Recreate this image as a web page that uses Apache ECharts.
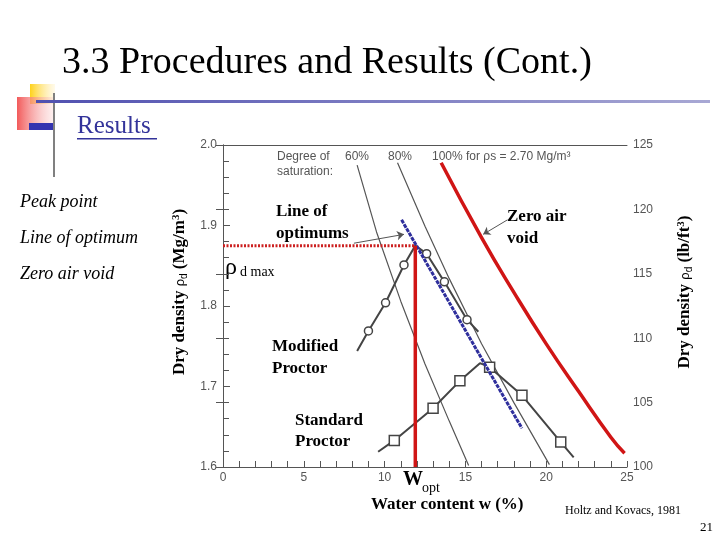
<!DOCTYPE html>
<html><head><meta charset="utf-8">
<script src="https://cdn.jsdelivr.net/npm/echarts@6/dist/echarts.min.js"></script>
<style>html,body{margin:0;padding:0;background:#fff}#c{width:720px;height:540px}</style>
</head><body><div id="c"></div>
<script>
// ---- data (w in %, rho_d in Mg/m3) ----
const xTicks = [0, 5, 10, 15, 20, 25];
const yTicksLeft = [1.6, 1.7, 1.8, 1.9, 2.0];
const yTicksRight = [100, 105, 110, 115, 120, 125];
const sat60 = [[8.3, 1.975], [9.5, 1.892], [11.0, 1.806], [12.5, 1.728], [14.0, 1.657], [15.2, 1.602]];
const sat80 = [[10.8, 1.978], [12.5, 1.899], [14.0, 1.834], [16.0, 1.753], [18.0, 1.680], [20.2, 1.603]];
const zeroAirVoid = [[13.5, 1.978], [16, 1.885], [18, 1.817], [20, 1.753], [22, 1.694], [24, 1.637], [24.85, 1.617]];
const modifiedW = [8.3, 9.0, 10.06, 11.2, 11.9, 12.6, 13.7, 15.1, 15.8];
const modifiedRho = [1.744, 1.769, 1.804, 1.851, 1.875, 1.865, 1.830, 1.783, 1.768];
const modifiedMarked = [false, true, true, true, false, true, true, true, false];
const standardW = [9.6, 10.6, 13.0, 14.66, 15.9, 16.5, 18.5, 20.9, 21.7];
const standardRho = [1.619, 1.633, 1.673, 1.707, 1.729, 1.724, 1.689, 1.631, 1.612];
const standardMarked = [false, true, true, true, false, true, true, true, false];
const lineOfOptimums = [[11.05, 1.907], [18.5, 1.648]];
const wOpt = 11.9;
const rhoMax = 1.875;
const arrowOptimums = [[8.1, 1.878], [11.2, 1.889]];
const arrowZeroAir = [[17.6, 1.907], [16.1, 1.889]];

const serif = '"Liberation Serif","Times New Roman",serif';
const sans = '"Liberation Sans",Arial,sans-serif';

function pts(ws, rs, marked) {
  return ws.map((w, i) => ({ value: [w, rs[i]], symbol: marked[i] ? undefined : 'none' }));
}
const nameRich = {
  a: { fontFamily: serif, fontSize: 17, fontWeight: 'bold', fill: '#000' },
  b: { fontFamily: sans, fontSize: 13, fill: '#000' },
  c: { fontFamily: sans, fontSize: 10, fill: '#000', verticalAlign: 'bottom', padding: [5, 0, 0, 0] },
  e: { fontFamily: serif, fontSize: 11, fontWeight: 'bold', fill: '#000', verticalAlign: 'top', padding: [0, 0, 7, 0] }
};

const chart = echarts.init(document.getElementById('c'));
const axisCol = '#555';
const option = {
  animation: false,
  backgroundColor: '#fff',
  grid: { left: 223, right: 93, top: 145, bottom: 73, show: false },
  xAxis: [{
    type: 'value', min: xTicks[0], max: xTicks[xTicks.length - 1], interval: 5,
    axisLine: { lineStyle: { color: axisCol, width: 1 } },
    axisTick: { inside: true, length: 6, lineStyle: { color: axisCol } },
    minorTick: { show: true, splitNumber: 5, length: 6, lineStyle: { color: axisCol } },
    axisLabel: { color: axisCol, fontFamily: sans, fontSize: 12, margin: 5 },
    splitLine: { show: false }
  }, {
    type: 'value', position: 'top', min: 0, max: 25,
    axisLine: { show: true, lineStyle: { color: axisCol } },
    axisTick: { show: false }, axisLabel: { show: false }, splitLine: { show: false }
  }],
  yAxis: [{
    type: 'value', min: yTicksLeft[0], max: yTicksLeft[yTicksLeft.length - 1], interval: 0.1,
    axisLine: { show: true, lineStyle: { color: axisCol } },
    axisTick: { inside: true, length: 7, lineStyle: { color: axisCol } },
    minorTick: { show: true, splitNumber: 5, length: 6, lineStyle: { color: axisCol } },
    axisLabel: { color: axisCol, fontFamily: sans, fontSize: 12, margin: 6, formatter: v => v.toFixed(1) },
    splitLine: { show: false }
  }, {
    type: 'value', position: 'right', min: yTicksRight[0], max: yTicksRight[yTicksRight.length - 1], interval: 5,
    axisLine: { show: true, lineStyle: { color: axisCol } },
    axisTick: { inside: true, length: 7, lineStyle: { color: axisCol } },
    axisLabel: { color: axisCol, fontFamily: sans, fontSize: 12, margin: 6 },
    splitLine: { show: false }
  }],
  series: [
    { type: 'line', data: sat60, showSymbol: false, lineStyle: { color: '#555', width: 1.2 }, silent: true, z: 2 },
    { type: 'line', data: sat80, showSymbol: false, lineStyle: { color: '#555', width: 1.2 }, silent: true, z: 2 },
    { type: 'line', data: pts(modifiedW, modifiedRho, modifiedMarked), symbol: 'circle', symbolSize: 8,
      itemStyle: { color: '#fff', borderColor: '#444', borderWidth: 1.5 }, lineStyle: { color: '#444', width: 2 }, z: 3 },
    { type: 'line', data: pts(standardW, standardRho, standardMarked), symbol: 'rect', symbolSize: 10,
      itemStyle: { color: '#fff', borderColor: '#444', borderWidth: 1.5 }, lineStyle: { color: '#444', width: 2 }, z: 3 },
    { type: 'line', data: zeroAirVoid, showSymbol: false, smooth: true, lineStyle: { color: '#d01515', width: 3.5 }, z: 4,
      markLine: { silent: true, symbol: ['none', 'arrow'], symbolSize: 7, label: { show: false },
        lineStyle: { color: '#555', width: 1, type: 'solid' },
        data: [[{ coord: arrowZeroAir[0] }, { coord: arrowZeroAir[1] }], [{ coord: arrowOptimums[0] }, { coord: arrowOptimums[1] }]] } },
    { type: 'line', data: lineOfOptimums, showSymbol: false, lineStyle: { color: '#2e2e9c', width: 3, type: [4, 1] }, z: 5 },
    { type: 'line', data: [[0, rhoMax], [wOpt, rhoMax]], showSymbol: false, lineStyle: { color: '#cc2020', width: 3, type: [2, 1.5] }, z: 5 },
    { type: 'line', data: [[wOpt, rhoMax], [wOpt, yTicksLeft[0]]], showSymbol: false, lineStyle: { color: '#d01515', width: 3.5 }, z: 5 }
  ],
  graphic: [
    // slide decoration
    { type: 'rect', shape: { x: 30, y: 84, width: 25, height: 20 }, style: { fill: new echarts.graphic.LinearGradient(0, 0, 1, 0, [{ offset: 0, color: '#ffd21a' }, { offset: 1, color: 'rgba(255,230,150,0.2)' }]) } },
    { type: 'rect', shape: { x: 17, y: 97, width: 36, height: 33 }, style: { fill: new echarts.graphic.LinearGradient(0, 0, 1, 0, [{ offset: 0, color: '#f25a5a' }, { offset: 1, color: 'rgba(250,200,200,0.3)' }]) } },
    { type: 'rect', shape: { x: 29, y: 123, width: 24, height: 7 }, style: { fill: '#3434b0' } },
    { type: 'rect', shape: { x: 53, y: 93, width: 2, height: 84 }, style: { fill: '#808080' } },
    { type: 'rect', shape: { x: 36, y: 100, width: 674, height: 3 }, style: { fill: new echarts.graphic.LinearGradient(0, 0, 1, 0, [{ offset: 0, color: '#5050b0' }, { offset: 1, color: '#a8a8d4' }]) } },
    { type: 'text', x: 62, y: 63, style: { text: '3.3 Procedures and Results (Cont.)', font: '38px ' + serif, fill: '#000', textVerticalAlign: 'middle' } },
    { type: 'text', x: 77, y: 126, style: { text: 'Results', font: '25px ' + serif, fill: '#33339a', textVerticalAlign: 'middle' } },
    { type: 'rect', shape: { x: 77, y: 138, width: 80, height: 1.5 }, style: { fill: '#33339a' } },
    { type: 'text', x: 20, y: 202, style: { text: 'Peak point', font: 'italic 18px ' + serif, fill: '#000', textVerticalAlign: 'middle' } },
    { type: 'text', x: 20, y: 238, style: { text: 'Line of optimum', font: 'italic 18px ' + serif, fill: '#000', textVerticalAlign: 'middle' } },
    { type: 'text', x: 20, y: 274, style: { text: 'Zero air void', font: 'italic 18px ' + serif, fill: '#000', textVerticalAlign: 'middle' } },
    // axis titles
    { type: 'text', x: 180, y: 292, rotation: Math.PI / 2, style: { text: '{a|Dry density }{b|ρ}{c|d}{a| (Mg/m}{e|3}{a|)}', rich: nameRich, align: 'center', verticalAlign: 'middle' } },
    { type: 'text', x: 685, y: 292, rotation: Math.PI / 2, style: { text: '{a|Dry density }{b|ρ}{c|d}{a| (lb/ft}{e|3}{a|)}', rich: nameRich, align: 'center', verticalAlign: 'middle' } },
    // chart captions (gray, printed)
    { type: 'text', x: 277, y: 157, style: { text: 'Degree of', font: '12px ' + sans, fill: '#555', textVerticalAlign: 'middle' } },
    { type: 'text', x: 277, y: 172, style: { text: 'saturation:', font: '12px ' + sans, fill: '#555', textVerticalAlign: 'middle' } },
    { type: 'text', x: 345, y: 157, style: { text: '60%', font: '12px ' + sans, fill: '#555', textVerticalAlign: 'middle' } },
    { type: 'text', x: 388, y: 157, style: { text: '80%', font: '12px ' + sans, fill: '#555', textVerticalAlign: 'middle' } },
    { type: 'text', x: 432, y: 157, style: { text: '100% for ρs = 2.70 Mg/m³', font: '12px ' + sans, fill: '#555', textVerticalAlign: 'middle' } },
    // overlaid annotations
    { type: 'text', x: 276, y: 212, style: { text: 'Line of', font: 'bold 17px ' + serif, fill: '#000', textVerticalAlign: 'middle' } },
    { type: 'text', x: 276, y: 234, style: { text: 'optimums', font: 'bold 17px ' + serif, fill: '#000', textVerticalAlign: 'middle' } },
    { type: 'text', x: 507, y: 217, style: { text: 'Zero air', font: 'bold 17px ' + serif, fill: '#000', textVerticalAlign: 'middle' } },
    { type: 'text', x: 507, y: 239, style: { text: 'void', font: 'bold 17px ' + serif, fill: '#000', textVerticalAlign: 'middle' } },
    { type: 'text', x: 272, y: 347, style: { text: 'Modified', font: 'bold 17px ' + serif, fill: '#000', textVerticalAlign: 'middle' } },
    { type: 'text', x: 272, y: 369, style: { text: 'Proctor', font: 'bold 17px ' + serif, fill: '#000', textVerticalAlign: 'middle' } },
    { type: 'text', x: 295, y: 421, style: { text: 'Standard', font: 'bold 17px ' + serif, fill: '#000', textVerticalAlign: 'middle' } },
    { type: 'text', x: 295, y: 442, style: { text: 'Proctor', font: 'bold 17px ' + serif, fill: '#000', textVerticalAlign: 'middle' } },
    { type: 'text', x: 225, y: 268, style: { text: 'ρ', font: '24px ' + serif, fill: '#000', textVerticalAlign: 'middle' } },
    { type: 'text', x: 240, y: 272, style: { text: 'd max', font: '14px ' + serif, fill: '#000', textVerticalAlign: 'middle' } },
    { type: 'text', x: 403, y: 480, style: { text: 'W', font: 'bold 20px ' + serif, fill: '#000', textVerticalAlign: 'middle' } },
    { type: 'text', x: 422, y: 488, style: { text: 'opt', font: '14px ' + serif, fill: '#000', textVerticalAlign: 'middle' } },
    { type: 'text', x: 371, y: 505, style: { text: 'Water content w (%)', font: 'bold 17px ' + serif, fill: '#000', textVerticalAlign: 'middle' } },
    { type: 'text', x: 565, y: 511, style: { text: 'Holtz and Kovacs, 1981', font: '12px ' + serif, fill: '#000', textVerticalAlign: 'middle' } },
    { type: 'text', x: 700, y: 528, style: { text: '21', font: '13px ' + serif, fill: '#000', textVerticalAlign: 'middle' } }
  ]
};
chart.setOption(option);
</script></body></html>
